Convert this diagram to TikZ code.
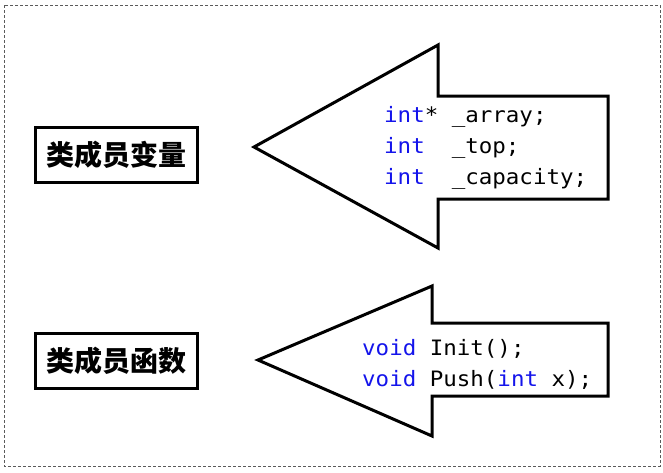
\documentclass[tikz,border=0pt]{standalone}
\usepackage{fontspec}
\newfontfamily\cjk{Noto Sans CJK SC}
\newfontfamily\code[FakeStretch=1.06]{DejaVu Sans Mono}
\definecolor{kw}{RGB}{20,20,235}
\definecolor{frame}{RGB}{90,90,90}
\begin{document}
\begin{tikzpicture}[x=1pt,y=-1pt,
  labelbox/.style={draw=black,line width=3pt,minimum width=162pt,minimum height=55pt,inner sep=0pt,font=\cjk\bfseries\fontsize{28}{30}\selectfont},
  bigarrow/.style={draw=black,line width=3pt,line join=miter,fill=white},
  codetext/.style={anchor=west,align=left,inner sep=0pt,font=\code\fontsize{21.2}{31}\selectfont}]
\useasboundingbox (0,0) rectangle (663,472);
\draw[frame,dashed,line width=0.6pt,dash pattern=on 3pt off 2pt] (4,5) rectangle (660,466);
% labels
\node[labelbox] (vars) at (116,154.5) {类成员变量};
\node[labelbox] (funcs) at (116,360.5) {类成员函数};
% top arrow
\draw[bigarrow] (254,147) -- (438,45) -- (438,96) -- (608,96) -- (608,199) -- (438,199) -- (438,248) -- cycle;
\node[codetext] (varcode) at (384,148) {\textcolor{kw}{int}*\ \_array;\\\textcolor{kw}{int}\ \ \_top;\\\textcolor{kw}{int}\ \ \_capacity;};
% bottom arrow
\draw[bigarrow] (258,360) -- (432,286) -- (432,323) -- (608,323) -- (608,396) -- (432,396) -- (432,436) -- cycle;
\node[codetext] (funccode) at (362,364.5) {\textcolor{kw}{void} Init();\\\textcolor{kw}{void} Push(\textcolor{kw}{int} x);};
\end{tikzpicture}
\end{document}
